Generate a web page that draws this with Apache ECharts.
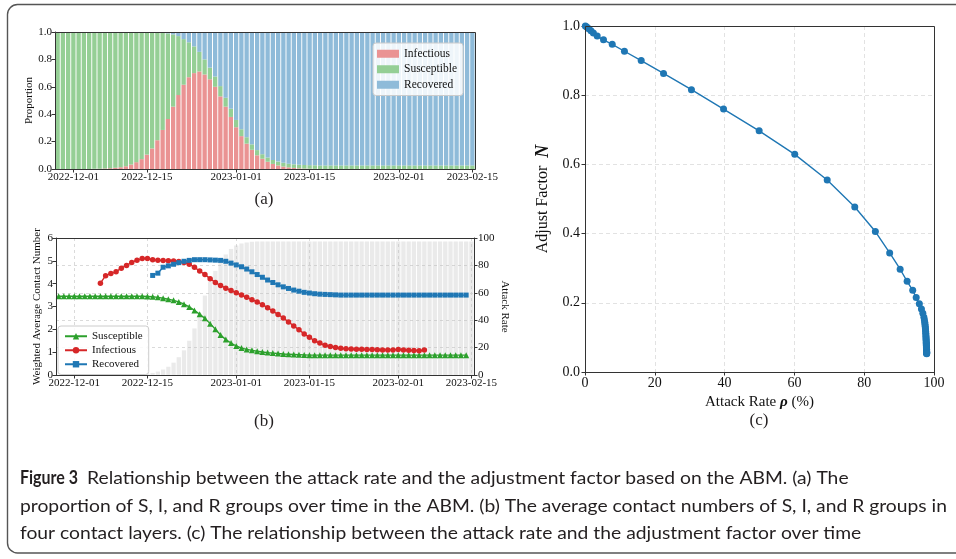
<!DOCTYPE html>
<html><head><meta charset="utf-8">
<script src="https://cdn.jsdelivr.net/npm/echarts@6/dist/echarts.min.js"></script>
<style>html,body{margin:0;padding:0;background:#fff}#c{width:956px;height:559px}</style>
</head><body><div id="c"></div>
<script>
// ---------- categories / tick labels ----------
const startDay = Date.UTC(2022, 10, 28);   // 2022-11-28
const dayCount = 80;                        // through 2023-02-15
const dates = [];
for (let i = 0; i < dayCount; i++) dates.push(new Date(startDay + i * 86400000).toISOString().slice(0, 10));
const tickLabels = ['2022-12-01', '2022-12-15', '2023-01-01', '2023-01-15', '2023-02-01', '2023-02-15'];

// ---------- (a) proportions per day ----------
const infectious = [0,0,0, 0,0,0,0, 0.001,0.002,0.004,0.006,0.009,0.013,
  0.02,0.033,0.05,0.072,0.105,0.15,0.21,0.285,0.365,0.455,0.54,0.615,0.67,0.70,0.712,0.69,0.655,0.60,0.53,0.455,0.38,0.305,0.24,0.185,0.14,0.10,0.075,0.053,0.037,0.026,0.018,0.012,0.008,0.005,0.003,0.002,0.001,
  0,0,0,0,0,0,0,0,0,0, 0,0,0,0,0,0,0,0,0,0, 0,0,0,0,0,0,0,0,0,0];
const susceptible = [1,1,1,1,1,1,1, 0.999,0.998,0.996,0.994,0.991,0.987, 0.98,0.967,0.95,0.928,0.895,0.85,
  0.788,0.71,0.625,0.527,0.43,0.333,0.255,0.195,0.143,0.11,0.085,0.075,0.075,0.065,0.06,0.053,0.05,0.047,0.04,0.038,0.033,0.031,0.029,0.028,0.027,0.027,0.026,
  0.026,0.026,0.026,0.026,0.026,0.026,0.026,0.026,0.026,0.026, 0.026,0.026,0.026,0.026,0.026,0.026,0.026,0.026,0.026,0.026,
  0.026,0.026,0.026,0.026,0.026,0.026,0.026,0.026,0.026,0.026, 0.026,0.026,0.026,0.026];
const recovered = [0,0,0,0,0,0,0,0,0,0, 0,0,0,0,0,0,0,0,0,
  0.002,0.005,0.01,0.018,0.03,0.052,0.075,0.105,0.145,0.20,0.26,0.325,0.395,0.48,0.56,0.642,0.71,0.768,0.82,0.862,0.892,0.916,0.934,0.946,0.955,0.961,0.966,0.969,0.971,0.972,0.973,
  0.974,0.974,0.974,0.974,0.974,0.974,0.974,0.974,0.974,0.974, 0.974,0.974,0.974,0.974,0.974,0.974,0.974,0.974,0.974,0.974,
  0.974,0.974,0.974,0.974,0.974,0.974,0.974,0.974,0.974,0.974];

// ---------- (b) contact numbers and attack rate ----------
const attackRate = [0,0,0,0,0,0,0,0,0,0,0,0,0,0,0,0,
  0.5,1,1.5,2.5,4,6,9,13,18,25,34,45,58,68,76,83,88,92,94.5,96,96.8,97.2,
  97.4,97.4,97.4,97.4,97.4,97.4,97.4,97.4,97.4,97.4, 97.4,97.4,97.4,97.4,97.4,97.4,97.4,97.4,97.4,97.4,
  97.4,97.4,97.4,97.4,97.4,97.4,97.4,97.4,97.4,97.4, 97.4,97.4,97.4,97.4,97.4,97.4,97.4,97.4,97.4,97.4, 97.4,97.4];
const contactS = [3.45,3.45,3.45,3.45,3.45,3.45,3.45,3.45,3.45,3.45,3.45,3.45,3.45,3.45,3.45,3.45,3.45,
  3.44,3.43,3.4,3.36,3.32,3.27,3.2,3.1,2.98,2.83,2.66,2.48,2.25,2.0,1.75,1.55,1.4,1.27,1.18,1.12,1.08,1.04,1.01,0.98,0.96,0.94,0.92,0.91,0.9,0.89,0.88,
  0.87,0.87,0.87,0.87,0.87,0.87,0.87,0.87,0.87,0.87, 0.87,0.87,0.87,0.87,0.87,0.87,0.87,0.87,0.87,0.87,
  0.87,0.87,0.87,0.87,0.87,0.87,0.87,0.87,0.87,0.87, 0.87, null];
const contactI = [null,null,null,null,null,null,null,null,
  4.02,4.35,4.45,4.52,4.68,4.8,4.93,5.03,5.1,5.1,
  5.05,5.03,5.01,5.0,4.99,4.97,4.93,4.85,4.72,4.55,
  4.4,4.22,4.05,3.92,3.8,3.7,3.6,3.5,3.4,3.3,
  3.2,3.08,2.95,2.8,2.65,2.5,2.32,2.15,1.98,1.8,
  1.65,1.5,1.4,1.3,1.25,1.2,1.17,1.15,1.14,1.13,
  1.13,1.12,1.12,1.11,1.1,1.1,1.1,1.12,1.1,1.08,
  1.07,1.06,1.09,
  null,null,null,null,null,null,null,null,null];
const contactR = [null,null,null,null,null,null,null,null,null,null,null,null,null,null,null,null,null,null,
  4.36,4.46,4.72,4.78,4.85,4.92,4.98,5.02,5.05,5.05,5.05,5.04,5.03,5.02,4.98,4.9,4.82,4.74,4.64,4.52,4.4,4.28,4.16,4.05,3.95,3.86,3.79,3.72,3.67,3.62,3.59,3.56,3.54,3.53,3.52,3.51,
  3.5,3.5,3.5,3.5,3.5,3.5,3.5,3.5,3.5,3.5, 3.5,3.5,3.5,3.5,3.5,3.5,3.5,3.5,3.5,3.5, 3.5,3.5,3.5,3.5,3.5, null];

// ---------- (c) attack rate vs adjust factor ----------
const rateC = [0.1,0.5,1.1,1.7,2.4,3.5,5.3,7.8,11.3,16.1,22.5,30.5,39.7,49.9,60.1,69.4,77.3,83.2,87.3,90.3,92.3,93.9,94.9,95.8,96.4,96.8,97.1,
  97.25,97.35,97.42,97.48,97.53,97.57,97.61,97.64,97.67,97.7,97.72,97.74,97.76,97.78,97.8,97.81,97.82,97.83,97.84,97.85,97.86,97.87,97.87,97.88,97.88,97.89,97.89,97.9,97.9,97.9];
const factorC = [1.0,0.997,0.992,0.986,0.98,0.971,0.96,0.947,0.927,0.90,0.863,0.816,0.76,0.697,0.629,0.555,0.477,0.406,0.344,0.297,0.262,0.236,0.215,0.197,0.182,0.17,0.158,
  0.150,0.144,0.138,0.132,0.127,0.122,0.117,0.112,0.107,0.102,0.098,0.094,0.090,0.086,0.083,0.080,0.077,0.074,0.071,0.068,0.066,0.064,0.062,0.060,0.058,0.057,0.056,0.055,0.054,0.053];

// ---------- captions ----------
const captionBold = 'Figure 3';
const captionLine1 = 'Relationship between the attack rate and the adjustment factor based on the ABM. (a) The';
const captionLine2 = 'proportion of S, I, and R groups over time in the ABM. (b) The average contact numbers of S, I, and R groups in';
const captionLine3 = 'four contact layers. (c) The relationship between the attack rate and the adjustment factor over time';

// ---------- layout ----------
const serif = '"Liberation Serif","Times New Roman",serif';
const GA = {left: 55, top: 32, width: 420, height: 137};
const GB = {left: 56, top: 238, width: 418, height: 137};
const GC = {left: 585, top: 26, width: 349, height: 346};
const isTick = (i, v) => tickLabels.indexOf(v) >= 0;
const tickFont = {fontFamily: serif, fontSize: 11, color: '#111'};
const spine = '#333';

function dateAxis(gi, split) {
  return {
    type: 'category', gridIndex: gi, data: dates, boundaryGap: true,
    axisLine: {show: true, lineStyle: {color: spine, width: 1}},
    axisTick: {show: true, interval: isTick, alignWithLabel: true, length: 3.5, lineStyle: {color: spine}},
    axisLabel: Object.assign({show: true, interval: isTick, margin: 3}, tickFont),
    splitLine: {show: split, interval: isTick, alignWithLabel: true, lineStyle: {type: [3, 3], color: '#dadada'}}
  };
}

const capFont = '18px Lato';
const capBoldFont = 'bold 18px Lato';
const mctx = document.createElement('canvas').getContext('2d');
function measure(t, f) { mctx.font = f; return mctx.measureText(t).width; }
const capScale = 927 / measure(captionLine2, capFont);
const boldScale = 58 / measure(captionBold, capBoldFont);

function txt(t, x, y, font, align, sx, fill) {
  return {type: 'text', x: x, y: y, scaleX: sx || 1, z: 50,
    style: {text: t, font: font, fill: fill || '#231f20', textAlign: align, textVerticalAlign: 'middle', align: align, verticalAlign: 'middle'}};
}
function box(g) {
  return {type: 'rect', z: 60, silent: true,
    shape: {x: g.left + 0.5, y: g.top + 0.5, width: g.width, height: g.height},
    style: {fill: 'none', stroke: spine, lineWidth: 1}};
}

const chart = echarts.init(document.getElementById('c'), null, {renderer: 'canvas'});
chart.setOption({
  animation: false,
  backgroundColor: '#fff',
  grid: [
    Object.assign({containLabel: false}, GA),
    Object.assign({containLabel: false}, GB),
    Object.assign({containLabel: false}, GC)
  ],
  legend: [
    {data: ['Infectious', 'Susceptible', 'Recovered'], left: 373, top: 43, orient: 'vertical', icon: 'rect',
      itemWidth: 22, itemHeight: 8, itemGap: 2, padding: [4, 6, 4, 4],
      backgroundColor: 'rgba(255,255,255,0.85)', borderColor: '#cccccc', borderWidth: 1, borderRadius: 3,
      textStyle: {fontFamily: serif, fontSize: 11.5, color: '#111', lineHeight: 13.5}},
    {data: ['Susceptible (b)', 'Infectious (b)', 'Recovered (b)'], left: 58, top: 326, orient: 'vertical',
      itemWidth: 22, itemHeight: 8, itemGap: 1.5, padding: [4, 6, 4, 6],
      formatter: n => n.replace(' (b)', ''),
      backgroundColor: 'rgba(255,255,255,0.85)', borderColor: '#cccccc', borderWidth: 1, borderRadius: 3,
      textStyle: {fontFamily: serif, fontSize: 11, color: '#111', lineHeight: 12.5}}
  ],
  xAxis: [
    dateAxis(0, false),
    dateAxis(1, true),
    {type: 'value', gridIndex: 2, min: 0, max: 100, interval: 20,
      axisLine: {show: true, lineStyle: {color: spine}}, axisTick: {show: true, length: 3.5, lineStyle: {color: spine}},
      axisLabel: {fontFamily: serif, fontSize: 14, color: '#111', margin: 4},
      splitLine: {show: true, lineStyle: {type: [4, 3], color: '#e2e2e2'}},
      name: 'Attack Rate {r|ρ} (%)', nameLocation: 'middle', nameGap: 20,
      nameTextStyle: {fontFamily: serif, fontSize: 15, color: '#111',
        rich: {r: {fontFamily: serif, fontSize: 15, fontWeight: 'bold', fontStyle: 'italic', color: '#111'}}}}
  ],
  yAxis: [
    {type: 'value', gridIndex: 0, min: 0, max: 1, interval: 0.2,
      axisLine: {show: true, lineStyle: {color: spine}}, axisTick: {show: true, length: 3.5, lineStyle: {color: spine}},
      axisLabel: Object.assign({margin: 3, formatter: v => v.toFixed(1)}, tickFont), splitLine: {show: false},
      name: 'Proportion', nameLocation: 'middle', nameGap: 20, nameRotate: 90,
      nameTextStyle: {fontFamily: serif, fontSize: 11, color: '#111'}},
    {type: 'value', gridIndex: 1, min: 0, max: 6, interval: 1,
      axisLine: {show: true, lineStyle: {color: spine}}, axisTick: {show: true, length: 3.5, lineStyle: {color: spine}},
      axisLabel: Object.assign({margin: 3}, tickFont), splitLine: {show: false},
      name: 'Weighted Average Contact Number', nameLocation: 'middle', nameGap: 13, nameRotate: 90,
      nameTextStyle: {fontFamily: serif, fontSize: 11, color: '#111'}},
    {type: 'value', gridIndex: 1, min: 0, max: 100, interval: 20, position: 'right',
      axisLine: {show: true, lineStyle: {color: spine}}, axisTick: {show: true, length: 3.5, lineStyle: {color: spine}},
      axisLabel: Object.assign({margin: 4}, tickFont),
      splitLine: {show: true, lineStyle: {type: [3, 3], color: '#dadada'}},
      name: 'Attack Rate', nameLocation: 'middle', nameGap: 25, nameRotate: -90,
      nameTextStyle: {fontFamily: serif, fontSize: 11, color: '#111'}},
    {type: 'value', gridIndex: 2, min: 0, max: 1, interval: 0.2,
      axisLine: {show: true, lineStyle: {color: spine}}, axisTick: {show: true, length: 3.5, lineStyle: {color: spine}},
      axisLabel: {fontFamily: serif, fontSize: 14, color: '#111', margin: 5, formatter: v => v.toFixed(1)},
      splitLine: {show: true, lineStyle: {type: [4, 3], color: '#e2e2e2'}},
      name: 'Adjust Factor  {n|N}', nameLocation: 'middle', nameGap: 33, nameRotate: 90,
      nameTextStyle: {fontFamily: serif, fontSize: 16, color: '#111',
        rich: {n: {fontFamily: serif, fontSize: 18, fontWeight: 'bold', fontStyle: 'italic', color: '#111'}}}}
  ],
  series: [
    {name: 'Infectious', type: 'bar', xAxisIndex: 0, yAxisIndex: 0, stack: 'a', data: infectious,
      barCategoryGap: '18%', itemStyle: {color: '#ea9393'}},
    {name: 'Susceptible', type: 'bar', xAxisIndex: 0, yAxisIndex: 0, stack: 'a', data: susceptible,
      barCategoryGap: '18%', itemStyle: {color: '#95cf95'}},
    {name: 'Recovered', type: 'bar', xAxisIndex: 0, yAxisIndex: 0, stack: 'a', data: recovered,
      barCategoryGap: '18%', itemStyle: {color: '#8fbbd9'}},
    {name: 'Attack rate', type: 'bar', xAxisIndex: 1, yAxisIndex: 2, data: attackRate, z: 1, silent: true,
      barCategoryGap: '18%', itemStyle: {color: 'rgba(190,190,190,0.32)'}},
    {name: 'Susceptible (b)', type: 'line', xAxisIndex: 1, yAxisIndex: 1, data: contactS, showAllSymbol: true,
      symbol: 'triangle', symbolSize: 6, itemStyle: {color: '#2ca02c'}, lineStyle: {color: '#2ca02c', width: 1.4}, z: 3},
    {name: 'Infectious (b)', type: 'line', xAxisIndex: 1, yAxisIndex: 1, data: contactI, showAllSymbol: true,
      symbol: 'circle', symbolSize: 5.5, itemStyle: {color: '#d62728'}, lineStyle: {color: '#d62728', width: 1.4}, z: 4},
    {name: 'Recovered (b)', type: 'line', xAxisIndex: 1, yAxisIndex: 1, data: contactR, showAllSymbol: true,
      symbol: 'rect', symbolSize: 5, itemStyle: {color: '#1f77b4'}, lineStyle: {color: '#1f77b4', width: 1.4}, z: 5},
    {name: 'Adjust', type: 'line', xAxisIndex: 2, yAxisIndex: 3, data: rateC.map((x, i) => [x, factorC[i]]),
      symbol: 'circle', symbolSize: 7, showAllSymbol: true, itemStyle: {color: '#1f77b4'}, lineStyle: {color: '#1f77b4', width: 1.4}}
  ],
  graphic: [
    {type: 'rect', z: 0, silent: true, shape: {x: 7.5, y: 4.5, width: 1000, height: 548.5, r: 10},
      style: {fill: 'none', stroke: '#555', lineWidth: 1.4}},
    box(GA), box(GB), box(GC),
    txt('(a)', 264, 200, '17px ' + serif, 'center'),
    txt('(b)', 264, 422, '17px ' + serif, 'center'),
    txt('(c)', 759, 421, '17px ' + serif, 'center'),
    txt(captionBold, 20, 478, capBoldFont, 'left', boldScale),
    txt(captionLine1, 87, 478, capFont, 'left', capScale),
    txt(captionLine2, 20, 506.5, capFont, 'left', capScale),
    txt(captionLine3, 20, 533.5, capFont, 'left', capScale)
  ]
});
</script></body></html>
